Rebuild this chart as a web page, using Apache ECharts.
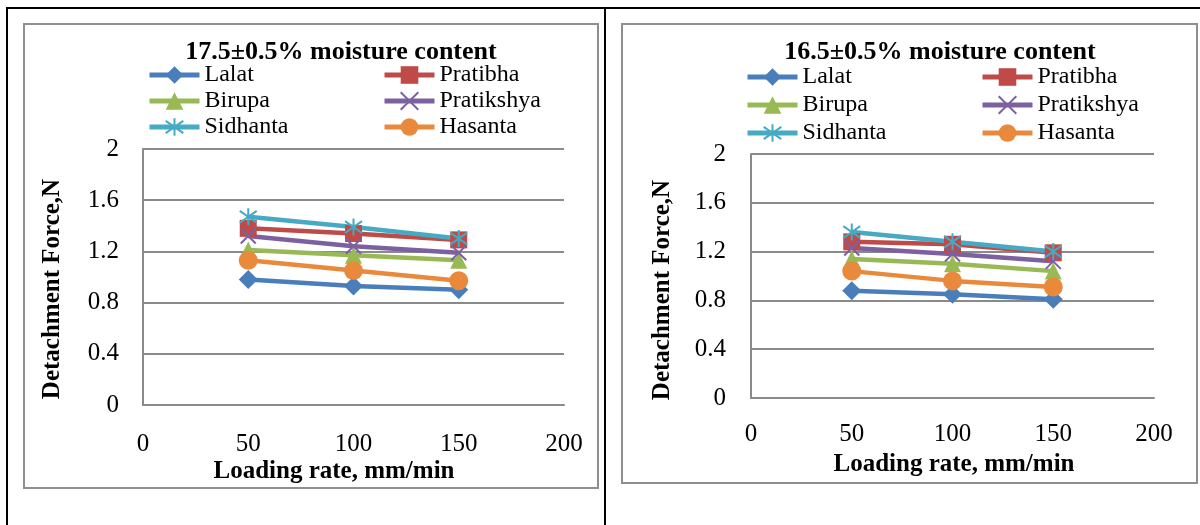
<!DOCTYPE html>
<html>
<head>
<meta charset="utf-8">
<script src="https://cdn.jsdelivr.net/npm/echarts@6/dist/echarts.min.js"></script>
<style>
  html, body { margin: 0; padding: 0; background: #fff; }
  #chart { width: 1200px; height: 525px; }
</style>
</head>
<body>
<div id="chart"></div>
<script>
// loading rate, mm/min
const loadingRate = [50, 100, 150];
const xTicks = [0, 50, 100, 150, 200];
const yTicks = [0, 0.4, 0.8, 1.2, 1.6, 2];

const varieties = ['Lalat', 'Pratibha', 'Birupa', 'Pratikshya', 'Sidhanta', 'Hasanta'];

// 17.5±0.5% moisture content
const lalat175 = [0.98, 0.93, 0.90];
const pratibha175 = [1.38, 1.34, 1.29];
const birupa175 = [1.21, 1.17, 1.13];
const pratikshya175 = [1.32, 1.24, 1.19];
const sidhanta175 = [1.47, 1.39, 1.30];
const hasanta175 = [1.13, 1.05, 0.97];

// 16.5±0.5% moisture content
const lalat165 = [0.88, 0.85, 0.81];
const pratibha165 = [1.28, 1.26, 1.19];
const birupa165 = [1.14, 1.10, 1.04];
const pratikshya165 = [1.23, 1.18, 1.12];
const sidhanta165 = [1.36, 1.28, 1.20];
const hasanta165 = [1.04, 0.96, 0.91];

const titles = ['17.5±0.5% moisture content', '16.5±0.5% moisture content'];
const xName = 'Loading rate, mm/min';
const yName = 'Detachment Force,N';

const values = [
  [lalat175, pratibha175, birupa175, pratikshya175, sidhanta175, hasanta175],
  [lalat165, pratibha165, birupa165, pratikshya165, sidhanta165, hasanta165]
];

const FONT = 'Liberation Serif';

// marker looks (Excel 2007 style)
const looks = {
  Lalat:      { color: '#4A7EBB', symbol: 'diamond', size: 19, stroke: 0 },
  Pratibha:   { color: '#BE4B48', symbol: 'rect', size: 17, stroke: 0 },
  Birupa:     { color: '#98B954', symbol: 'triangle', size: 17, stroke: 0 },
  Pratikshya: { color: '#7D60A0', symbol: 'path://M0 0L10 10M10 0L0 10', size: 15, stroke: 2 },
  Sidhanta:   { color: '#46AAC5', symbol: 'path://M5 0L5 10M0 1.5L10 8.5M10 1.5L0 8.5', size: 17, stroke: 2 },
  Hasanta:    { color: '#E8893C', symbol: 'circle', size: 19, stroke: 0 }
};

// layout of the two panels
const panels = [
  { grid: { left: 143, top: 149, width: 421, height: 256 }, frame: [24, 24, 574, 464],
    title: [336, 34], legendTop: 63, legendCols: [147, 382], legendGap: 2,
    xLabelMargin: 27, yLabelMargin: 24, xTitle: [334, 472], yTitle: [53, 289] },
  { grid: { left: 751, top: 154, width: 403, height: 244 }, frame: [622, 24, 575, 459],
    title: [935, 34], legendTop: 65, legendCols: [745, 980], legendGap: 4,
    xLabelMargin: 24, yLabelMargin: 25, xTitle: [954, 465], yTitle: [663, 290] }
];

const option = {
  animation: false,
  backgroundColor: '#fff',
  textStyle: { fontFamily: FONT },
  title: [],
  legend: [],
  grid: [],
  xAxis: [],
  yAxis: [],
  series: [],
  graphic: []
};

panels.forEach((p, k) => {
  option.grid.push(Object.assign({ containLabel: false }, p.grid));

  option.title.push({
    text: titles[k],
    left: p.title[0],
    top: p.title[1],
    textAlign: 'center',
    textStyle: { fontFamily: FONT, fontWeight: 'bold', fontSize: 26, color: '#000' }
  });

  [[0, 2, 4], [1, 3, 5]].forEach((idx, c) => {
    option.legend.push({
      orient: 'vertical',
      left: p.legendCols[c],
      top: p.legendTop,
      itemWidth: 50,
      itemHeight: 22,
      itemGap: p.legendGap,
      padding: 0,
      lineStyle: { width: 5 },
      data: idx.map(i => varieties[i]),
      textStyle: { fontFamily: FONT, fontSize: 24, fontWeight: 'normal', color: '#000' }
    });
  });

  option.xAxis.push({
    type: 'value',
    gridIndex: k,
    min: 0,
    max: 200,
    interval: 50,
    axisLine: { show: true, lineStyle: { color: '#8a8a8a', width: 2 } },
    axisTick: { show: false },
    splitLine: { show: false },
    axisLabel: {
      margin: p.xLabelMargin,
      fontFamily: FONT, fontSize: 25, color: '#000',
      formatter: v => xTicks.includes(v) ? String(v) : ''
    }
  });

  option.yAxis.push({
    type: 'value',
    gridIndex: k,
    min: 0,
    max: 2,
    interval: 0.4,
    axisLine: { show: true, lineStyle: { color: '#8a8a8a', width: 2 } },
    axisTick: { show: false },
    splitLine: { show: true, lineStyle: { color: '#8a8a8a', width: 2 } },
    axisLabel: {
      margin: p.yLabelMargin,
      fontFamily: FONT, fontSize: 25, color: '#000',
      formatter: v => {
        const t = yTicks.find(y => Math.abs(y - v) < 1e-6);
        return t === undefined ? '' : String(t);
      }
    }
  });

  varieties.forEach((name, i) => {
    const lk = looks[name];
    option.series.push({
      name: name,
      type: 'line',
      xAxisIndex: k,
      yAxisIndex: k,
      data: loadingRate.map((x, j) => [x, values[k][i][j]]),
      symbol: lk.symbol,
      symbolSize: lk.size,
      lineStyle: { color: lk.color, width: 4.5 },
      itemStyle: { color: lk.color, borderColor: lk.color, borderWidth: lk.stroke },
      emphasis: { disabled: true }
    });
  });

  // chart frame
  option.graphic.push({
    type: 'rect',
    shape: { x: p.frame[0], y: p.frame[1], width: p.frame[2], height: p.frame[3] },
    style: { fill: 'none', stroke: '#8f8f8f', lineWidth: 2 },
    silent: true
  });

  // axis titles
  option.graphic.push({
    type: 'text',
    x: p.xTitle[0], y: p.xTitle[1],
    style: { text: xName, font: 'bold 25px "' + FONT + '"', fill: '#000', align: 'center', verticalAlign: 'middle' },
    silent: true
  });
  option.graphic.push({
    type: 'text',
    x: p.yTitle[0], y: p.yTitle[1],
    rotation: Math.PI / 2,
    style: { text: yName, font: 'bold 25px "' + FONT + '"', fill: '#000', align: 'center', verticalAlign: 'middle' },
    silent: true
  });
});

// table lines around the two cells
option.graphic.push(
  { type: 'line', shape: { x1: 6, y1: 8, x2: 1200, y2: 8 }, style: { stroke: '#000', lineWidth: 2 }, silent: true },
  { type: 'line', shape: { x1: 7, y1: 8, x2: 7, y2: 525 }, style: { stroke: '#000', lineWidth: 2 }, silent: true },
  { type: 'line', shape: { x1: 605, y1: 8, x2: 605, y2: 525 }, style: { stroke: '#000', lineWidth: 2 }, silent: true }
);

const chart = echarts.init(document.getElementById('chart'));
chart.setOption(option);
</script>
</body>
</html>
